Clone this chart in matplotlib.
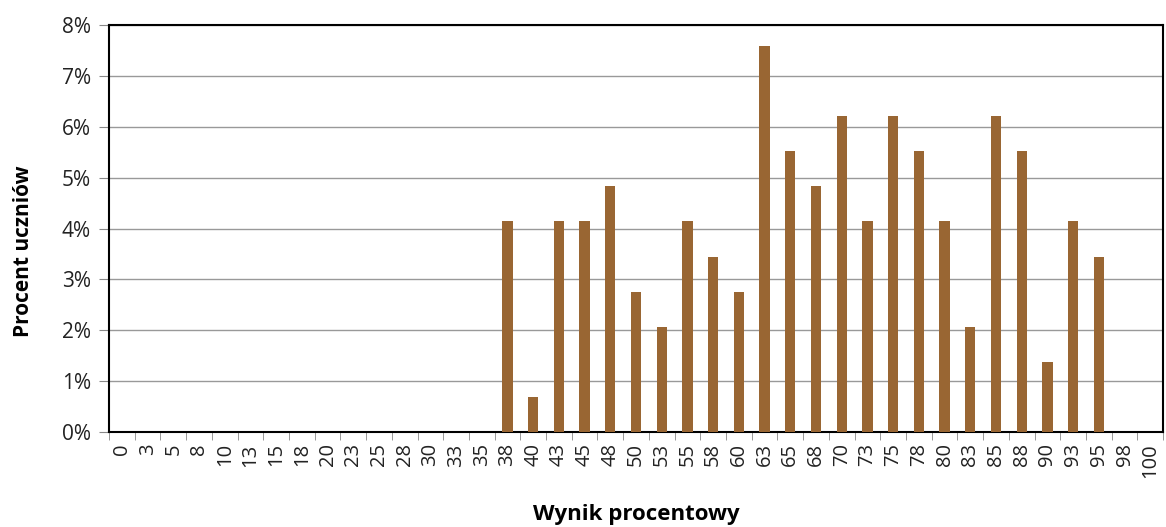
import numpy as np
import matplotlib
matplotlib.use("Agg")
import matplotlib.pyplot as plt
from matplotlib.ticker import PercentFormatter, FixedLocator

# Score categories (percentage result) and share of students (%)
scores = [0, 3, 5, 8, 10, 13, 15, 18, 20, 23, 25, 28, 30, 33, 35, 38, 40, 43, 45, 48,
          50, 53, 55, 58, 60, 63, 65, 68, 70, 73, 75, 78, 80, 83, 85, 88, 90, 93, 95, 98, 100]
share = [0, 0, 0, 0, 0, 0, 0, 0, 0, 0, 0, 0, 0, 0, 0, 4.14, 0.69, 4.14, 4.14, 4.83,
         2.76, 2.07, 4.14, 3.45, 2.76, 7.59, 5.52, 4.83, 6.21, 4.14, 6.21, 5.52, 4.14, 2.07, 6.21, 5.52,
         1.38, 4.14, 3.45, 0, 0]

plt.rcParams['font.family'] = ['Open Sans', 'DejaVu Sans']

fig = plt.figure(figsize=(11.66, 5.27), dpi=100)
ax = fig.add_axes([0.0935, 0.180, 0.904, 0.7726])

x = np.arange(len(scores))
ax.bar(x, share, width=0.4, color='#996633', zorder=3)

ax.set_xlim(-0.5, len(scores) - 0.5)
ax.set_ylim(0, 8)
ax.set_yticks(range(0, 9))
ax.yaxis.set_major_formatter(PercentFormatter(decimals=0))
ax.yaxis.grid(True, color='#999999', linewidth=1, zorder=0)

ax.set_xticks(x)
ax.set_xticklabels([str(s) for s in scores], rotation=90)
ax.xaxis.set_minor_locator(FixedLocator(np.arange(-0.5, len(scores), 1)))
ax.tick_params(axis='x', which='major', length=0, pad=8, labelsize=14.5, colors='#222222')
ax.tick_params(axis='x', which='minor', length=6, color='#888888')
ax.tick_params(axis='y', length=7, color='#888888', labelsize=15, labelcolor='#222222', pad=6)

for sp in ax.spines.values():
    sp.set_color('black')
    sp.set_linewidth(1.5)

ax.set_ylabel('Procent uczniów', fontsize=15, fontweight='bold')
ax.yaxis.set_label_coords(-0.071, 0.445)
fig.text(0.546, 0.014, 'Wynik procentowy', fontsize=16, fontweight='bold', ha='center')

fig.savefig('out.png', dpi=100)
